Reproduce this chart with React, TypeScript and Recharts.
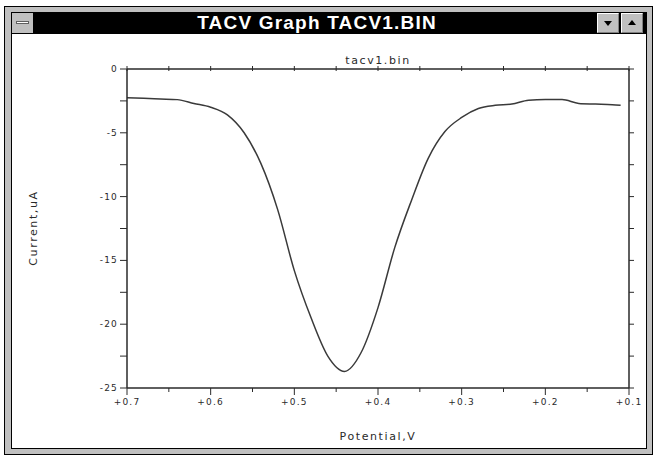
import { LineChart, Line, XAxis, YAxis } from "recharts";

// potential (V) and current (uA)
const potential = [
  0.7, 0.68, 0.66, 0.64, 0.62, 0.6, 0.58, 0.56, 0.54, 0.52, 0.5, 0.48, 0.46, 0.44, 0.42, 0.4,
  0.38, 0.36, 0.34, 0.32, 0.3, 0.28, 0.26, 0.24, 0.22, 0.2, 0.18, 0.16, 0.14, 0.12, 0.11,
];
const current = [
  -2.25, -2.3, -2.35, -2.4, -2.7, -3.0, -3.6, -5.0, -7.4, -11.0, -15.8, -19.5, -22.5, -23.7, -22.2,
  -18.7, -14.0, -10.3, -7.0, -4.9, -3.8, -3.1, -2.85, -2.75, -2.45, -2.4, -2.4, -2.7, -2.75, -2.8, -2.85,
];

const xMajorTicks = [0.7, 0.6, 0.5, 0.4, 0.3, 0.2, 0.1];
const xTicks = [0.7, 0.65, 0.6, 0.55, 0.5, 0.45, 0.4, 0.35, 0.3, 0.25, 0.2, 0.15, 0.1];
const yTicks = [0, -2.5, -5, -7.5, -10, -12.5, -15, -17.5, -20, -22.5, -25];
const yLabelTicks = [0, -5, -10, -15, -20, -25];

const chartTitle = "tacv1.bin";
const xTitle = "Potential,V";
const yTitle = "Current,uA";
const windowTitle = "TACV Graph TACV1.BIN";

const data = potential.map((p, i) => ({ potential: p, current: current[i] }));

const ink = "#2a2a2a";
const tickText = { fontFamily: "DejaVu Sans", fontSize: 9, fill: ink, letterSpacing: 1.2 };
const labelStyle: React.CSSProperties = {
  position: "absolute",
  fontFamily: "DejaVu Sans",
  fontSize: 11,
  letterSpacing: 1.6,
  color: ink,
  whiteSpace: "nowrap",
  transform: "translate(-50%, -50%)",
};

const isMajorX = (v: number) => xMajorTicks.some((m) => Math.abs(m - v) < 1e-6);

function BottomTick({ x, y, payload }: any) {
  const major = isMajorX(payload.value);
  return (
    <g>
      <line x1={x} x2={x} y1={y} y2={y + (major ? 7 : 4)} stroke={ink} />
      {major && (
        <text x={x} y={y + 17} textAnchor="middle" {...tickText}>
          {"+" + payload.value.toFixed(1)}
        </text>
      )}
    </g>
  );
}

function TopTick({ x, y }: any) {
  return <line x1={x} x2={x} y1={y - 3} y2={y + 2} stroke={ink} />;
}

function LeftTick({ x, y, payload }: any) {
  return (
    <g>
      <line x1={x - 7} x2={x} y1={y} y2={y} stroke={ink} />
      {yLabelTicks.includes(payload.value) && (
        <text x={x - 9} y={y + 3} textAnchor="end" {...tickText}>
          {String(payload.value)}
        </text>
      )}
    </g>
  );
}

function RightTick({ x, y }: any) {
  return <line x1={x} x2={x + 5} y1={y} y2={y} stroke={ink} />;
}

function Button({ left, dir }: { left: number; dir: "up" | "down" }) {
  return (
    <div
      style={{
        position: "absolute",
        left,
        top: 13,
        width: 22,
        height: 20,
        background: "#c0c0c0",
        borderTop: "1px solid #fff",
        borderLeft: "1px solid #fff",
        borderRight: "1px solid #808080",
        borderBottom: "1px solid #808080",
        boxSizing: "border-box",
      }}
    >
      <div
        style={{
          position: "absolute",
          left: 6,
          top: dir === "down" ? 7 : 6,
          width: 0,
          height: 0,
          borderLeft: "4px solid transparent",
          borderRight: "4px solid transparent",
          borderTop: dir === "down" ? "5px solid #000" : undefined,
          borderBottom: dir === "up" ? "5px solid #000" : undefined,
        }}
      />
    </div>
  );
}

export default function App() {
  return (
    <div style={{ position: "absolute", left: 0, top: 0, width: 654, height: 457, background: "#fff", overflow: "hidden" }}>
      {/* window frame */}
      <div
        style={{
          position: "absolute",
          left: 4,
          top: 6,
          width: 649,
          height: 449,
          background: "#c0c0c0",
          border: "1px solid #000",
          boxSizing: "border-box",
        }}
      />
      <div
        style={{
          position: "absolute",
          left: 11,
          top: 12,
          width: 636,
          height: 437,
          background: "#fff",
          border: "1px solid #000",
          boxSizing: "border-box",
        }}
      />
      {/* title bar */}
      <div style={{ position: "absolute", left: 12, top: 13, width: 634, height: 21, background: "#000" }} />
      <div
        style={{
          position: "absolute",
          left: 12,
          top: 13,
          width: 22,
          height: 20,
          background: "#c0c0c0",
          borderRight: "1px solid #000",
          boxSizing: "border-box",
        }}
      >
        <div style={{ position: "absolute", left: 4, top: 8, width: 13, height: 3, background: "#fff", border: "1px solid #606060", boxSizing: "border-box" }} />
      </div>
      <div
        style={{
          position: "absolute",
          left: 317,
          top: 23,
          transform: "translate(-50%, -50%)",
          color: "#fff",
          fontFamily: "Liberation Sans",
          fontWeight: "bold",
          fontSize: 19,
          letterSpacing: 1.2,
          whiteSpace: "nowrap",
        }}
      >
        {windowTitle}
      </div>
      <Button left={597} dir="down" />
      <Button left={621} dir="up" />

      <div style={{ position: "absolute", left: 0, top: 0 }}>
        <LineChart width={654} height={457} data={data} margin={{ top: 68, right: 24, bottom: 39, left: 67 }}>
          <XAxis
            xAxisId="bottom"
            type="number"
            dataKey="potential"
            domain={[0.1, 0.7]}
            reversed
            ticks={xTicks}
            tickSize={0}
            tickMargin={0}
            tick={<BottomTick />}
            height={30}
            interval={0}
            axisLine={{ stroke: ink, strokeWidth: 1.5 }}
            tickLine={false}
            allowDataOverflow
          />
          <XAxis
            xAxisId="top"
            orientation="top"
            type="number"
            dataKey="potential"
            domain={[0.1, 0.7]}
            reversed
            ticks={xTicks}
            tickSize={0}
            tickMargin={0}
            tick={<TopTick />}
            height={1}
            interval={0}
            axisLine={{ stroke: ink, strokeWidth: 1.5 }}
            tickLine={false}
            allowDataOverflow
          />
          <YAxis
            yAxisId="left"
            type="number"
            domain={[-25, 0]}
            ticks={yTicks}
            tickSize={0}
            tickMargin={0}
            tick={<LeftTick />}
            width={60}
            interval={0}
            axisLine={{ stroke: ink, strokeWidth: 1.5 }}
            tickLine={false}
            allowDataOverflow
          />
          <YAxis
            yAxisId="right"
            orientation="right"
            type="number"
            domain={[-25, 0]}
            ticks={yTicks}
            tickSize={0}
            tickMargin={0}
            tick={<RightTick />}
            width={1}
            interval={0}
            axisLine={{ stroke: ink, strokeWidth: 1.5 }}
            tickLine={false}
            allowDataOverflow
          />
          <Line
            xAxisId="bottom"
            yAxisId="left"
            type="monotone"
            dataKey="current"
            stroke="#3a3a3a"
            strokeWidth={1.5}
            dot={false}
            isAnimationActive={false}
          />
        </LineChart>
      </div>

      <div style={{ ...labelStyle, left: 378, top: 60 }}>{chartTitle}</div>
      <div style={{ ...labelStyle, left: 378, top: 436 }}>{xTitle}</div>
      <div style={{ ...labelStyle, left: 33, top: 228, transform: "translate(-50%, -50%) rotate(-90deg)" }}>{yTitle}</div>
    </div>
  );
}
